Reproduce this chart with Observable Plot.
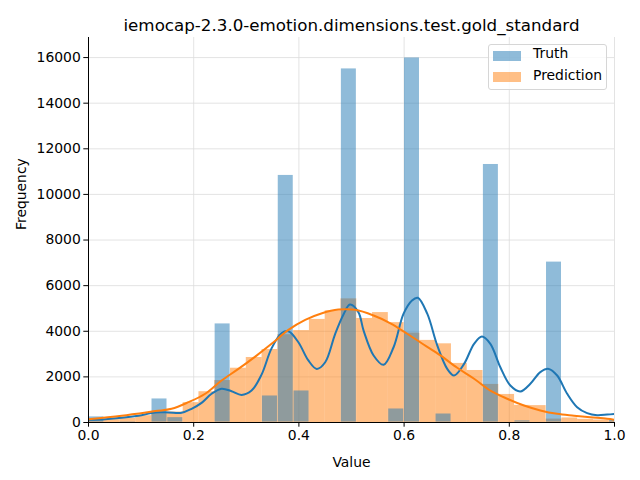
<!DOCTYPE html>
<html>
<head>
<meta charset="utf-8">
<script src="https://cdn.jsdelivr.net/npm/d3@7"></script>
<script src="https://cdn.jsdelivr.net/npm/@observablehq/plot@0.6"></script>
<style>
  body { margin: 0; background: #fff; }
  #wrap { position: relative; width: 640px; height: 480px; font-family: "DejaVu Sans", sans-serif; }
  #legend { position: absolute; left: 488px; top: 44px; width: 117px; height: 44px;
    border: 1px solid #d6d6d6; border-radius: 3px; background: rgba(255,255,255,0.8); }
  .item { position: absolute; left: 0; font-size: 13.9px; color: #000; }
  .patch { position: absolute; left: 4px; width: 28px; height: 10px; }
  .lab { position: absolute; left: 44px; white-space: nowrap; }
</style>
</head>
<body>
<div id="wrap"></div>
<script>
const title = "iemocap-2.3.0-emotion.dimensions.test.gold_standard";
const xLabel = "Value";
const yLabel = "Frequency";
const seriesNames = ["Truth", "Prediction"];
const binWidth = 0.03;
const xTicks = [0, 0.2, 0.4, 0.6, 0.8, 1.0];
const yTicks = [0, 2000, 4000, 6000, 8000, 10000, 12000, 14000, 16000];

// histogram counts per bin (bin i spans i*binWidth .. (i+1)*binWidth)
const truthCounts = [263, 0, 50, 0, 1050, 230, 0, 0, 4340, 0, 0, 1180, 10850, 1400, 0, 0,
  15520, 0, 0, 610, 16000, 0, 390, 0, 0, 11330, 0, 90, 0, 7050, 0, 0, 0, 150];
const predCounts = [100, 130, 180, 300, 400, 460, 870, 1350, 1840, 2380, 2850, 3200, 3850, 4030, 4520, 4900,
  5420, 4560, 4820, 4380, 3920, 3600, 3450, 2590, 2280, 1670, 1230, 750, 740, 150, 200, 140, 110, 80];

// density curves (scaled to counts)
const truthKdeX = [0, 0.032, 0.063, 0.095, 0.127, 0.152, 0.177, 0.196, 0.215, 0.234, 0.253, 0.272, 0.291, 0.31,
  0.329, 0.348, 0.367, 0.38, 0.399, 0.418, 0.434, 0.45, 0.469, 0.485, 0.497, 0.513, 0.523, 0.542, 0.561, 0.58,
  0.599, 0.615, 0.626, 0.644, 0.663, 0.682, 0.695, 0.714, 0.733, 0.748, 0.764, 0.783, 0.802, 0.821, 0.84,
  0.859, 0.875, 0.891, 0.91, 0.929, 0.948, 0.967, 0.986, 1.0];
const truthKdeY = [120, 145, 205, 300, 440, 440, 425, 600, 860, 1260, 1480, 1370, 1210, 1400,
  2100, 3250, 3910, 4000, 3520, 2720, 2350, 2640, 3890, 4750, 5170, 4840, 4030, 2940, 2530, 3300,
  4770, 5350, 5470, 4770, 3380, 2350, 2060, 2570, 3450, 3770, 3450, 2420, 1620, 1360, 1700,
  2210, 2350, 2060, 1260, 670, 410, 320, 350, 380];
const predKdeX = [0, 0.063, 0.127, 0.158, 0.19, 0.222, 0.253, 0.285, 0.317, 0.348, 0.38, 0.412, 0.444, 0.475,
  0.507, 0.542, 0.574, 0.606, 0.637, 0.669, 0.701, 0.733, 0.764, 0.796, 0.828, 0.859, 0.891, 0.923, 0.954, 0.986, 1.0];
const predKdeY = [145, 300, 500, 600, 890, 1260, 1840, 2350, 2890, 3450, 4060, 4500, 4790, 4950,
  4940, 4690, 4350, 3890, 3420, 2940, 2400, 1920, 1400, 1040, 745, 530, 380, 300, 230, 160, 120];

const colors = {Truth: "#1f77b4", Prediction: "#ff7f0e"};

const bins = (counts) => counts.map((c, i) => ({x1: i * binWidth, x2: (i + 1) * binWidth, y: c})).filter(d => d.y > 0);
const curve = (xs, ys) => xs.map((x, i) => ({x, y: ys[i]}));

const chart = Plot.plot({
  width: 640,
  height: 480,
  marginLeft: 88,
  marginRight: 26,
  marginTop: 37,
  marginBottom: 58,
  style: {fontFamily: "DejaVu Sans, sans-serif", fontSize: "13.9px", background: "#fff", color: "#000"},
  x: {domain: [0, 1], ticks: xTicks, tickFormat: d3.format(".1f"), label: null},
  y: {domain: [0, 16880], ticks: yTicks, tickFormat: d => String(d), label: null},
  marks: [
    Plot.gridX(xTicks, {stroke: "#dcdcdc", strokeOpacity: 1, strokeWidth: 0.8}),
    Plot.gridY(yTicks, {stroke: "#dcdcdc", strokeOpacity: 1, strokeWidth: 0.8}),
    Plot.rectY(bins(predCounts), {x1: "x1", x2: "x2", y: "y", fill: colors.Prediction, fillOpacity: 0.5, clip: true, inset: 0}),
    Plot.rectY(bins(truthCounts), {x1: "x1", x2: "x2", y: "y", fill: colors.Truth, fillOpacity: 0.5, clip: true, inset: 0.4}),
    Plot.line(curve(truthKdeX, truthKdeY), {x: "x", y: "y", stroke: colors.Truth, strokeWidth: 2, curve: "catmull-rom", clip: true}),
    Plot.line(curve(predKdeX, predKdeY), {x: "x", y: "y", stroke: colors.Prediction, strokeWidth: 2, curve: "catmull-rom", clip: true}),
    Plot.axisX(xTicks, {tickSize: 4.7, tickPadding: 3, tickFormat: d3.format(".1f"), fontSize: 13.9, label: null}),
    Plot.axisY(yTicks, {tickSize: 4.7, tickPadding: 3, fontSize: 13.9, label: null, tickFormat: d => String(d)}),
    Plot.ruleX([0], {stroke: "#000", strokeWidth: 1}),
    Plot.ruleY([0], {stroke: "#000", strokeWidth: 1}),
    Plot.text([title], {frameAnchor: "top", dy: -7, lineAnchor: "bottom", fontSize: 16.7, fill: "#000"}),
    Plot.text([xLabel], {frameAnchor: "bottom", dy: 44, lineAnchor: "bottom", fontSize: 13.9, fill: "#000"}),
    Plot.text([yLabel], {frameAnchor: "left", dx: -67, rotate: -90, lineAnchor: "middle", fontSize: 13.9, fill: "#000"})
  ]
});

const wrap = document.getElementById("wrap");
wrap.appendChild(chart);

const legend = document.createElement("div");
legend.id = "legend";
seriesNames.forEach((name, i) => {
  const item = document.createElement("div");
  item.className = "item";
  item.style.top = (i === 0 ? 5 : 27) + "px";
  const patch = document.createElement("div");
  patch.className = "patch";
  patch.style.top = (i === 0 ? 1 : 0) + "px";
  patch.style.background = colors[name];
  patch.style.opacity = 0.5;
  const lab = document.createElement("div");
  lab.className = "lab";
  lab.style.top = "-5px";
  lab.textContent = name;
  item.appendChild(patch);
  item.appendChild(lab);
  legend.appendChild(item);
});
wrap.appendChild(legend);
</script>
</body>
</html>
